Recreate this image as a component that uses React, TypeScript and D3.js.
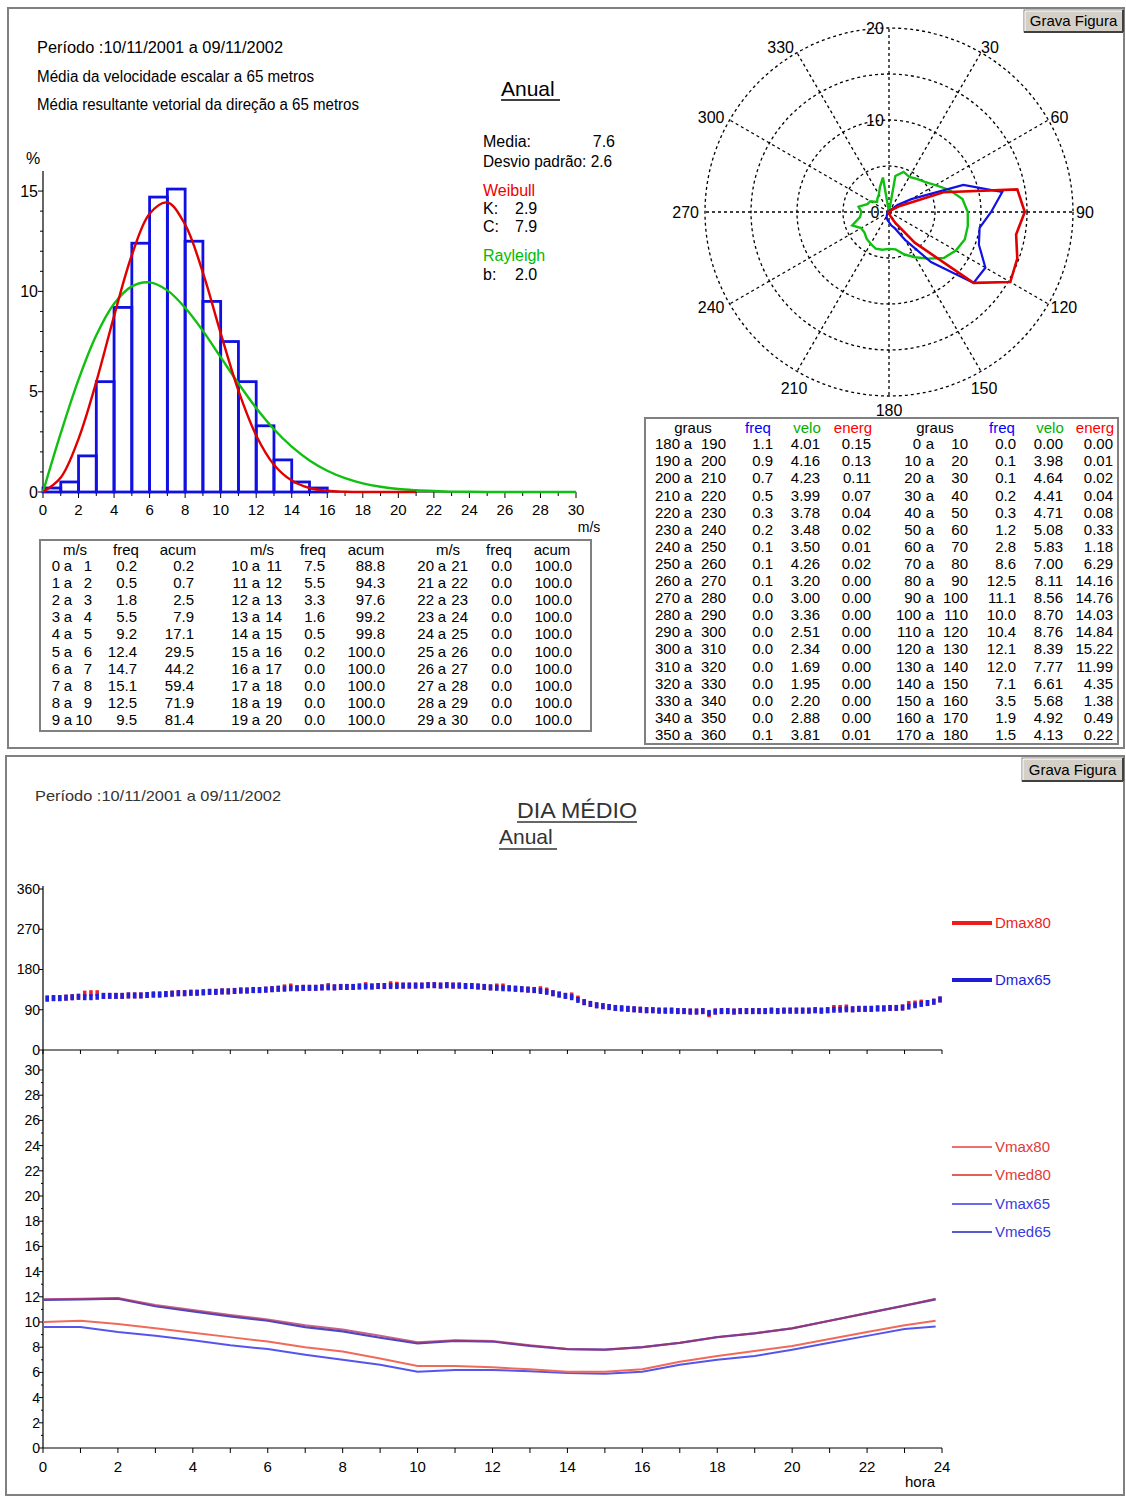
import React from 'react';
import * as d3 from 'd3';

const FONT = '"Liberation Sans", Arial, sans-serif';

// ---------- speed histogram ----------
const binLow = [0,1,2,3,4,5,6,7,8,9,10,11,12,13,14,15,16,17,18,19,20,21,22,23,24,25,26,27,28,29];
const binFreq = [0.2,0.5,1.8,5.5,9.2,12.4,14.7,15.1,12.5,9.5,7.5,5.5,3.3,1.6,0.5,0.2,0.0,0.0,0.0,0.0,0.0,0.0,0.0,0.0,0.0,0.0,0.0,0.0,0.0,0.0];
const binAcum = [0.2,0.7,2.5,7.9,17.1,29.5,44.2,59.4,71.9,81.4,88.8,94.3,97.6,99.2,99.8,100.0,100.0,100.0,100.0,100.0,100.0,100.0,100.0,100.0,100.0,100.0,100.0,100.0,100.0,100.0];
const barsShown = 17;
const weibullV = [0,1,2,3,4,5,6,7,8,9,10,11,12,13,14,15,16,17,18,19,20,21];
const weibullF = [0,0.72,2.65,5.49,8.77,11.8,13.87,14.43,13.33,10.93,7.92,5.05,2.82,1.36,0.57,0.2,0.06,0.015,0,0,0,0];
const rayleighV = [0,1,2,3,4,5,6,7,8,9,10,11,12,13,14,15,16,17,18,19,20,21,22,23,24,25,26,27,28,29,30];
const rayleighF = [0,2.93,5.6,7.81,9.38,10.25,10.45,10.05,9.18,8.03,6.72,5.41,4.19,3.13,2.26,1.57,1.06,0.69,0.43,0.26,0.15,0.09,0.05,0.02,0.01,0,0,0,0,0,0];
const histXTicks = [0,2,4,6,8,10,12,14,16,18,20,22,24,26,28,30];
const histYTicks = [0,5,10,15];

// ---------- directional (polar) ----------
const dirStart = [0,10,20,30,40,50,60,70,80,90,100,110,120,130,140,150,160,170,180,190,200,210,220,230,240,250,260,270,280,290,300,310,320,330,340,350];
const dirFreq = [0.0,0.1,0.1,0.2,0.3,1.2,2.8,8.6,12.5,11.1,10.0,10.4,12.1,12.0,7.1,3.5,1.9,1.5,1.1,0.9,0.7,0.5,0.3,0.2,0.1,0.1,0.1,0.0,0.0,0.0,0.0,0.0,0.0,0.0,0.0,0.1];
const dirVelo = [0.00,3.98,4.64,4.41,4.71,5.08,5.83,7.00,8.11,8.56,8.70,8.76,8.39,7.77,6.61,5.68,4.92,4.13,4.01,4.16,4.23,3.99,3.78,3.48,3.50,4.26,3.20,3.00,3.36,2.51,2.34,1.69,1.95,2.20,2.88,3.81];
const dirEnerg = [0.00,0.01,0.02,0.04,0.08,0.33,1.18,6.29,14.16,14.76,14.03,14.84,15.22,11.99,4.35,1.38,0.49,0.22,0.15,0.13,0.11,0.07,0.04,0.02,0.01,0.02,0.00,0.00,0.00,0.00,0.00,0.00,0.00,0.00,0.00,0.01];
const polarAngleLabels = [30,60,90,120,150,180,210,240,270,300,330];
const polarRings = [5,10,15,20];
const polarRadialLabels = [0,10,20];

// ---------- daily mean: direction (10-minute steps) ----------
const dmax65 = [
  115,116,116,117,118,119, 118,118,119,121,121,121, 121,122,122,122,123,124, 124,125,126,127,127,128,
  128,129,130,130,131,131, 132,133,133,134,134,135, 136,137,137,138,138,139, 139,139,140,140,140,141,
  141,141,142,142,142,143, 143,143,143,144,144,144, 144,145,145,144,145,144, 144,143,143,142,141,140,
  139,138,138,137,136,135, 134,132,130,127,124,121, 118,112,107,103,100,98, 96,94,93,92,91,90,
  89,89,88,88,88,87, 87,86,86,87,83,86, 87,87,86,87,87,87, 87,87,88,87,88,88,
  88,88,88,89,88,89, 90,90,91,91,92,92, 92,93,93,94,94,95, 97,100,103,105,108,113
];
const dmax80 = [
  115,116,116,117,118,119, 126,127,127,121,121,121, 121,122,122,122,123,124, 124,125,126,127,127,128,
  128,129,130,130,131,131, 132,133,133,134,134,135, 136,137,140,142,138,139, 139,139,140,143,140,141,
  141,141,142,145,142,143, 143,147,146,144,144,144, 144,145,145,144,145,144, 144,143,143,142,141,140,
  142,142,138,137,136,135, 134,136,133,127,124,121, 122,115,107,103,100,98, 96,94,93,92,91,90,
  89,89,88,88,88,87, 87,86,86,87,80,86, 87,87,86,87,87,87, 87,87,88,87,88,88,
  88,88,88,89,88,89, 94,94,95,91,92,92, 92,93,93,94,94,95, 103,104,106,105,108,113
];
const dirYTicks = [0,90,180,270,360];

// ---------- daily mean: speed (hourly) ----------
const hours = [0,1,2,3,4,5,6,7,8,9,10,11,12,13,14,15,16,17,18,19,20,21,22,23,23.83];
const vmax80 = [11.8,11.85,11.9,11.35,10.95,10.55,10.2,9.75,9.4,8.9,8.4,8.55,8.5,8.15,7.85,7.8,8.0,8.35,8.8,9.1,9.5,10.1,10.7,11.3,11.85];
const vmax65 = [11.75,11.8,11.85,11.25,10.85,10.45,10.1,9.6,9.25,8.75,8.3,8.5,8.45,8.1,7.85,7.8,8.0,8.35,8.8,9.1,9.5,10.1,10.7,11.3,11.8];
const vmed80 = [10.0,10.1,9.85,9.5,9.15,8.8,8.45,8.0,7.65,7.1,6.5,6.5,6.4,6.25,6.05,6.05,6.25,6.85,7.3,7.7,8.1,8.65,9.2,9.75,10.1];
const vmed65 = [9.6,9.6,9.2,8.9,8.55,8.15,7.85,7.4,7.0,6.6,6.05,6.2,6.2,6.1,5.95,5.9,6.05,6.6,7.0,7.3,7.8,8.35,8.9,9.45,9.65];
const hourTicks = [0,2,4,6,8,10,12,14,16,18,20,22,24];
const speedYTicks = [0,2,4,6,8,10,12,14,16,18,20,22,24,26,28,30];

const T = (p: any) => {
  const { x, y, children, size = 16, anchor = 'start', fill = '#000', weight, ...rest } = p;
  return (
    <text x={x} y={y} dy="0.35em" fontSize={size} textAnchor={anchor} fill={fill} fontFamily={FONT} fontWeight={weight} {...rest}>
      {children}
    </text>
  );
};

function Button({ x, y, w, h }: any) {
  return (
    <g>
      <rect x={x} y={y} width={w} height={h} fill="#d4d0c8" stroke="#808080" strokeWidth={1} />
      <line x1={x + 1} y1={y + 1} x2={x + w - 1} y2={y + 1} stroke="#fff" />
      <line x1={x + 1} y1={y + 1} x2={x + 1} y2={y + h - 1} stroke="#fff" />
      <line x1={x} y1={y + h} x2={x + w} y2={y + h} stroke="#404040" strokeWidth={2} />
      <line x1={x + w} y1={y} x2={x + w} y2={y + h} stroke="#404040" strokeWidth={2} />
      <T x={x + w / 2} y={y + h / 2} size={15} anchor="middle">Grava Figura</T>
    </g>
  );
}

export default function App() {
  // histogram scales
  const hx = d3.scaleLinear().domain([0, 30]).range([43, 576]);
  const hy = d3.scaleLinear().domain([0, 16]).range([492, 171]);
  const distLine = d3.line<[number, number]>().x(d => hx(d[0])).y(d => hy(d[1])).curve(d3.curveCatmullRom.alpha(0.5));
  const weibullPath = distLine(weibullV.map((v, i) => [v, weibullF[i]] as [number, number]));
  const rayleighPath = distLine(rayleighV.map((v, i) => [v, rayleighF[i]] as [number, number]));

  // polar
  const cx = 889, cy = 212;
  const pr = d3.scaleLinear().domain([0, 20]).range([0, 184]);
  const polarPt = (deg: number, r: number): [number, number] => {
    const a = (deg * Math.PI) / 180;
    return [cx + r * Math.sin(a), cy - r * Math.cos(a)];
  };
  const polarPath = (vals: number[]) =>
    d3.line<[number, number]>().curve(d3.curveLinearClosed)(dirStart.map((d, i) => polarPt(d, pr(vals[i]))));
  const spokes = [0, 30, 60, 90, 120, 150, 180, 210, 240, 270, 300, 330];
  const angleLabel = (a: number) => {
    const [px, py] = polarPt(a, 190);
    if (a >= 150 && a <= 210) return { x: px, y: py + (a === 180 ? 8 : 12), anchor: 'middle' };
    if (a < 180) return { x: px - 3, y: py, anchor: 'start' };
    return { x: px, y: py, anchor: 'end' };
  };

  // bottom charts
  const tx = d3.scaleLinear().domain([0, 24]).range([43, 942]);
  const dy = d3.scaleLinear().domain([0, 360]).range([1050, 889]);
  const vy = d3.scaleLinear().domain([0, 30]).range([1448, 1070]);
  const vline = (vals: number[]) => d3.line<number>().x((_, i) => tx(hours[i])).y(d => vy(d))(vals);

  const rowY = (i: number) => 566 + i * 17.05;
  const rRowY = (i: number) => 444 + i * 17.1;

  const leftGroups = [
    { a: 60, mid: 68, b: 92, f: 137, c: 194, hm: 75, hf: 126, hc: 178 },
    { a: 248, mid: 256, b: 282, f: 325, c: 385, hm: 262, hf: 313, hc: 366 },
    { a: 434, mid: 442, b: 468, f: 512, c: 572, hm: 448, hf: 499, hc: 552 },
  ];
  const rightGroups = [
    { off: 18, a: 680, mid: 688, b: 726, f: 773, v: 820, e: 871, hg: 693, hf: 758, hv: 807, he: 853 },
    { off: 0, a: 921, mid: 930, b: 968, f: 1016, v: 1063, e: 1113, hg: 935, hf: 1002, hv: 1050, he: 1095 },
  ];

  const legendDir = [
    { name: 'Dmax80', color: '#ee1c1c', y: 923 },
    { name: 'Dmax65', color: '#1c1cd8', y: 980 },
  ];
  const legendV = [
    { name: 'Vmax80', color: '#f07070', text: '#e03a3a', y: 1147 },
    { name: 'Vmed80', color: '#e06055', text: '#e03a3a', y: 1175 },
    { name: 'Vmax65', color: '#6a6af0', text: '#3a3ae0', y: 1204 },
    { name: 'Vmed65', color: '#5a5acc', text: '#3a3ae0', y: 1232 },
  ];

  return (
    <svg width={1126} height={1497} style={{ position: 'absolute', left: 0, top: 0, background: '#fff' }} fontFamily={FONT}>
      <rect x={0} y={0} width={1126} height={1497} fill="#fff" />
      {/* panels */}
      <rect x={8} y={8} width={1116} height={740} fill="#fff" stroke="#808080" strokeWidth={2} />
      <rect x={6} y={756} width={1118} height={739} fill="#fff" stroke="#808080" strokeWidth={2} />
      <Button x={1024} y={10} w={99} h={22} />
      <Button x={1022} y={758} w={101} h={23} />

      {/* top texts */}
      <T x={37} y={47} textLength={246} lengthAdjust="spacingAndGlyphs">Período :10/11/2001 a 09/11/2002</T>
      <T x={37} y={76} textLength={277} lengthAdjust="spacingAndGlyphs">Média da velocidade escalar a 65 metros</T>
      <T x={37} y={104} textLength={322} lengthAdjust="spacingAndGlyphs">Média resultante vetorial da direção a 65 metros</T>
      <T x={501} y={89} size={21}>Anual</T>
      <line x1={501} x2={560} y1={100} y2={100} stroke="#000" strokeWidth={1.3} />
      <T x={483} y={141}>Media:</T>
      <T x={615} y={141} anchor="end">7.6</T>
      <T x={483} y={161} textLength={129} lengthAdjust="spacingAndGlyphs">Desvio padrão: 2.6</T>
      <T x={483} y={190} fill="#ee0000">Weibull</T>
      <T x={483} y={208}>K:</T>
      <T x={515} y={208}>2.9</T>
      <T x={483} y={226}>C:</T>
      <T x={515} y={226}>7.9</T>
      <T x={483} y={255} fill="#00bb00">Rayleigh</T>
      <T x={483} y={274}>b:</T>
      <T x={515} y={274}>2.0</T>

      {/* histogram axes */}
      <T x={33} y={158} anchor="middle">%</T>
      <line x1={hx(0)} x2={hx(0)} y1={hy(0)} y2={hy(16)} stroke="#000" strokeWidth={1.2} />
      {d3.range(0, 16).map(v => (
        <line key={'hyt' + v} x1={hx(0) - (v % 5 === 0 ? 5 : 3)} x2={hx(0)} y1={hy(v)} y2={hy(v)} stroke="#000" />
      ))}
      {histYTicks.map(v => (
        <T key={'hyl' + v} x={hx(0) - 5} y={hy(v)} anchor="end">{v}</T>
      ))}
      <line x1={hx(0)} x2={hx(30)} y1={hy(0)} y2={hy(0)} stroke="#000" strokeWidth={1.2} />
      {d3.range(0, 31).map(v => (
        <line key={'hxt' + v} x1={hx(v)} x2={hx(v)} y1={hy(0)} y2={hy(0) + (v % 2 === 0 ? 6 : 4)} stroke="#000" />
      ))}
      {histXTicks.map(v => (
        <T key={'hxl' + v} x={hx(v)} y={510} anchor="middle" size={15}>{v}</T>
      ))}
      <T x={589} y={527} anchor="middle" size={14}>m/s</T>

      {/* histogram bars */}
      {binLow.slice(0, barsShown).map((b, i) => (
        <rect key={'bar' + i} x={hx(b)} y={hy(binFreq[i])} width={hx(b + 1) - hx(b)} height={hy(0) - hy(binFreq[i])}
          fill="none" stroke="#1010e0" strokeWidth={2.8} />
      ))}
      <path d={rayleighPath || ''} fill="none" stroke="#10c010" strokeWidth={2.4} />
      <path d={weibullPath || ''} fill="none" stroke="#e00000" strokeWidth={2.4} />

      {/* speed table */}
      <rect x={40} y={540} width={551} height={191} fill="#fff" stroke="#808080" strokeWidth={2} />
      {leftGroups.map((g, gi) => (
        <g key={'lg' + gi}>
          <T x={g.hm} y={550} anchor="middle" size={15}>m/s</T>
          <T x={g.hf} y={550} anchor="middle" size={15}>freq</T>
          <T x={g.hc} y={550} anchor="middle" size={15}>acum</T>
          {d3.range(10).map(r => {
            const i = gi * 10 + r;
            return (
              <g key={'lr' + i}>
                <T x={g.a} y={rowY(r)} anchor="end" size={15}>{binLow[i]}</T>
                <T x={g.mid} y={rowY(r)} anchor="middle" size={15}>a</T>
                <T x={g.b} y={rowY(r)} anchor="end" size={15}>{binLow[i] + 1}</T>
                <T x={g.f} y={rowY(r)} anchor="end" size={15}>{binFreq[i].toFixed(1)}</T>
                <T x={g.c} y={rowY(r)} anchor="end" size={15}>{binAcum[i].toFixed(1)}</T>
              </g>
            );
          })}
        </g>
      ))}

      {/* polar grid */}
      {polarRings.map(v => (
        <circle key={'ring' + v} cx={cx} cy={cy} r={pr(v)} fill="none" stroke="#000" strokeWidth={1.3} strokeDasharray="3,3" />
      ))}
      {spokes.map(a => {
        const [x2, y2] = polarPt(a, pr(20));
        return <line key={'sp' + a} x1={cx} y1={cy} x2={x2} y2={y2} stroke="#000" strokeWidth={1.3} strokeDasharray="3,3" />;
      })}
      <path d={polarPath(dirVelo) || ''} fill="none" stroke="#10c010" strokeWidth={2.4} />
      <path d={polarPath(dirFreq) || ''} fill="none" stroke="#1010e8" strokeWidth={2.2} />
      <path d={polarPath(dirEnerg) || ''} fill="none" stroke="#e00000" strokeWidth={2.6} />
      {polarAngleLabels.map(a => {
        const l = angleLabel(a);
        return <T key={'pal' + a} x={l.x} y={l.y} anchor={l.anchor}>{a}</T>;
      })}
      {polarRadialLabels.map(v => (
        <T key={'prl' + v} x={cx - 14} y={cy - pr(v)} anchor="middle">{v}</T>
      ))}

      {/* direction table */}
      <rect x={645} y={418} width={473} height={326} fill="#fff" stroke="#808080" strokeWidth={2} />
      {rightGroups.map((g, gi) => (
        <g key={'rg' + gi}>
          <T x={g.hg} y={428} anchor="middle" size={15}>graus</T>
          <T x={g.hf} y={428} anchor="middle" size={15} fill="#0000ff">freq</T>
          <T x={g.hv} y={428} anchor="middle" size={15} fill="#00b000">velo</T>
          <T x={g.he} y={428} anchor="middle" size={15} fill="#ff0000">energ</T>
          {d3.range(18).map(r => {
            const i = g.off + r;
            return (
              <g key={'rr' + i}>
                <T x={g.a} y={rRowY(r)} anchor="end" size={15}>{dirStart[i]}</T>
                <T x={g.mid} y={rRowY(r)} anchor="middle" size={15}>a</T>
                <T x={g.b} y={rRowY(r)} anchor="end" size={15}>{dirStart[i] + 10}</T>
                <T x={g.f} y={rRowY(r)} anchor="end" size={15}>{dirFreq[i].toFixed(1)}</T>
                <T x={g.v} y={rRowY(r)} anchor="end" size={15}>{dirVelo[i].toFixed(2)}</T>
                <T x={g.e} y={rRowY(r)} anchor="end" size={15}>{dirEnerg[i].toFixed(2)}</T>
              </g>
            );
          })}
        </g>
      ))}

      {/* bottom panel texts */}
      <T x={35} y={796} size={15} fill="#333" textLength={246} lengthAdjust="spacingAndGlyphs">Período :10/11/2001 a 09/11/2002</T>
      <T x={517} y={810} size={22} fill="#333" textLength={120} lengthAdjust="spacingAndGlyphs">DIA MÉDIO</T>
      <line x1={517} x2={637} y1={822} y2={822} stroke="#333" strokeWidth={1.3} />
      <T x={499} y={837} size={21} fill="#333">Anual</T>
      <line x1={499} x2={557} y1={849} y2={849} stroke="#333" strokeWidth={1.3} />

      {/* direction chart */}
      <line x1={tx(0)} x2={tx(0)} y1={dy(0)} y2={dy(360) - 3} stroke="#000" strokeWidth={1.2} />
      {dirYTicks.map(v => (
        <g key={'dyt' + v}>
          <line x1={tx(0) - 4} x2={tx(0)} y1={dy(v)} y2={dy(v)} stroke="#000" />
          <T x={tx(0) - 3} y={dy(v)} anchor="end" size={14}>{v}</T>
        </g>
      ))}
      <line x1={tx(0)} x2={tx(24)} y1={dy(0)} y2={dy(0)} stroke="#000" strokeWidth={1.2} />
      {d3.range(0, 25).map(h => (
        <line key={'dxt' + h} x1={tx(h)} x2={tx(h)} y1={dy(0)} y2={dy(0) + 4} stroke="#000" />
      ))}
      {dmax80.map((v, i) => (
        <rect key={'d80' + i} x={tx(i / 6) + 2.5} y={dy(v) - 3} width={3.5} height={6} fill="#f02020" />
      ))}
      {dmax65.map((v, i) => (
        <rect key={'d65' + i} x={tx(i / 6) + 2.5} y={dy(v) - 3} width={3.5} height={6} fill="#2020e0" />
      ))}
      {legendDir.map(l => (
        <g key={l.name}>
          <line x1={952} x2={992} y1={l.y} y2={l.y} stroke={l.color} strokeWidth={4} />
          <T x={995} y={l.y} size={15} fill={l.color}>{l.name}</T>
        </g>
      ))}

      {/* speed chart */}
      <line x1={tx(0)} x2={tx(0)} y1={vy(0)} y2={dy(0)} stroke="#000" strokeWidth={1.2} />
      {d3.range(0, 31).map(v => (
        <line key={'vyt' + v} x1={tx(0) - (v % 2 === 0 ? 4 : 2)} x2={tx(0)} y1={vy(v)} y2={vy(v)} stroke="#000" />
      ))}
      {speedYTicks.map(v => (
        <T key={'vyl' + v} x={tx(0) - 3} y={vy(v)} anchor="end" size={14}>{v}</T>
      ))}
      <line x1={tx(0)} x2={tx(24)} y1={vy(0)} y2={vy(0)} stroke="#000" strokeWidth={1.2} />
      {d3.range(0, 25).map(h => (
        <line key={'vxt' + h} x1={tx(h)} x2={tx(h)} y1={vy(0)} y2={vy(0) + 5} stroke="#000" />
      ))}
      {hourTicks.map(h => (
        <T key={'vxl' + h} x={tx(h)} y={1467} anchor="middle" size={15}>{h}</T>
      ))}
      <T x={920} y={1482} anchor="middle" size={15}>hora</T>
      <path d={vline(vmed65) || ''} fill="none" stroke="#5555ee" strokeWidth={2} />
      <path d={vline(vmed80) || ''} fill="none" stroke="#f06a5a" strokeWidth={2} />
      <path d={vline(vmax65) || ''} fill="none" stroke="#4848c8" strokeWidth={2.2} />
      <path d={vline(vmax80) || ''} fill="none" stroke="#b03060" strokeWidth={2} strokeOpacity={0.75} />
      {legendV.map(l => (
        <g key={l.name}>
          <line x1={952} x2={992} y1={l.y} y2={l.y} stroke={l.color} strokeWidth={2} />
          <T x={995} y={l.y} size={15} fill={l.text}>{l.name}</T>
        </g>
      ))}
    </svg>
  );
}
